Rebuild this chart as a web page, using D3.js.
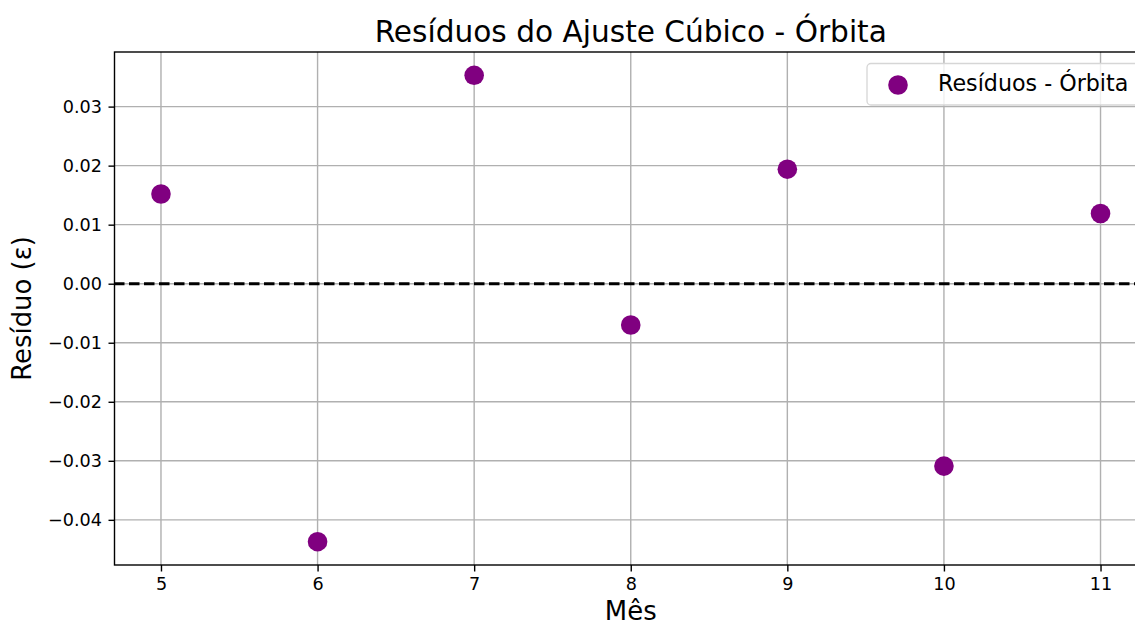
<!DOCTYPE html>
<html>
<head>
<meta charset="utf-8">
<script src="https://cdn.jsdelivr.net/npm/d3@7"></script>
<style>
  body { margin: 0; background: #fff; }
  svg { font-family: "DejaVu Sans", sans-serif; display: block; }
  .grid line { stroke: #b0b0b0; stroke-width: 1.4; }
  .axis path { display: none; }
  .axis line { stroke: #000; stroke-width: 1.4; }
  .axis text { fill: #000; }
</style>
</head>
<body>
<div id="chart"></div>
<script>
// data
var months = [5, 6, 7, 8, 9, 10, 11];
var residuals = [0.0152, -0.0437, 0.0353, -0.0070, 0.0194, -0.0309, 0.0119];
var xTicks = [5, 6, 7, 8, 9, 10, 11];
var yTicks = [-0.04, -0.03, -0.02, -0.01, 0.00, 0.01, 0.02, 0.03];
var titleText = "Resíduos do Ajuste Cúbico - Órbita";
var xLabel = "Mês";
var yLabel = "Resíduo (ε)";
var legendLabel = "Resíduos - Órbita";

var W = 1135, H = 624;
var pLeft = 114, pRight = 1147.5, pTop = 52, pBottom = 565;

var svg = d3.select("#chart").append("svg")
    .attr("width", W)
    .attr("height", H);

// matplotlib-like 5% margins
var xExt = d3.extent(months), xPad = (xExt[1] - xExt[0]) * 0.05;
var yExt = d3.extent(residuals), yPad = (yExt[1] - yExt[0]) * 0.05;

var x = d3.scaleLinear().domain([xExt[0] - xPad, xExt[1] + xPad]).range([pLeft, pRight]);
var y = d3.scaleLinear().domain([yExt[0] - yPad, yExt[1] + yPad]).range([pBottom, pTop]);

// grid
var grid = svg.append("g").attr("class", "grid");
grid.selectAll("line.vx").data(xTicks).enter().append("line")
    .attr("class", "vx")
    .attr("x1", function(d) { return x(d); })
    .attr("x2", function(d) { return x(d); })
    .attr("y1", pTop).attr("y2", pBottom);
grid.selectAll("line.hy").data(yTicks).enter().append("line")
    .attr("class", "hy")
    .attr("x1", pLeft).attr("x2", pRight)
    .attr("y1", function(d) { return y(d); })
    .attr("y2", function(d) { return y(d); });

// zero line
svg.append("line")
    .attr("x1", pLeft).attr("x2", pRight)
    .attr("y1", y(0)).attr("y2", y(0))
    .attr("stroke", "#000")
    .attr("stroke-width", 2.9)
    .attr("stroke-dasharray", "10.5,4.5");

// axes
svg.append("g")
    .attr("class", "axis")
    .attr("transform", "translate(0," + pBottom + ")")
    .call(d3.axisBottom(x).tickValues(xTicks).tickSize(6.5).tickPadding(6.5).tickFormat(d3.format("d")));

svg.append("g")
    .attr("class", "axis")
    .attr("transform", "translate(" + (pLeft + 1) + ",0)")
    .call(d3.axisLeft(y).tickValues(yTicks).tickSize(6.5).tickPadding(6.5).tickFormat(d3.format(".2f")));

svg.selectAll(".axis")
    .attr("font-family", "DejaVu Sans, sans-serif")
    .attr("font-size", 17.6);

// frame
svg.append("rect")
    .attr("x", pLeft + 0.5).attr("y", pTop)
    .attr("width", pRight - pLeft).attr("height", pBottom - pTop)
    .attr("fill", "none")
    .attr("stroke", "#000")
    .attr("stroke-width", 1.4);

// points
svg.selectAll("circle.pt").data(months).enter().append("circle")
    .attr("class", "pt")
    .attr("cx", function(d) { return x(d); })
    .attr("cy", function(d, i) { return y(residuals[i]); })
    .attr("r", 9.8)
    .attr("fill", "#800080");

// title and labels
svg.append("text")
    .attr("x", (pLeft + pRight) / 2).attr("y", 42)
    .attr("text-anchor", "middle")
    .attr("font-size", "29.6px")
    .text(titleText);

svg.append("text")
    .attr("x", (pLeft + pRight) / 2).attr("y", 620)
    .attr("text-anchor", "middle")
    .attr("font-size", "25.9px")
    .text(xLabel);

svg.append("text")
    .attr("transform", "translate(31," + ((pTop + pBottom) / 2) + ") rotate(-90)")
    .attr("text-anchor", "middle")
    .attr("font-size", "25.9px")
    .text(yLabel);

// legend
var lg = svg.append("g");
lg.append("rect")
    .attr("x", 867).attr("y", 63.5)
    .attr("width", 272).attr("height", 41.5)
    .attr("rx", 4)
    .attr("fill", "#fff").attr("fill-opacity", 0.8)
    .attr("stroke", "#d6d6d6").attr("stroke-width", 1.3);
lg.append("circle")
    .attr("cx", 898).attr("cy", 85)
    .attr("r", 9.8)
    .attr("fill", "#800080");
lg.append("text")
    .attr("x", 938).attr("y", 90.5)
    .attr("font-size", "22.2px")
    .attr("fill", "#000")
    .text(legendLabel);
</script>
</body>
</html>
